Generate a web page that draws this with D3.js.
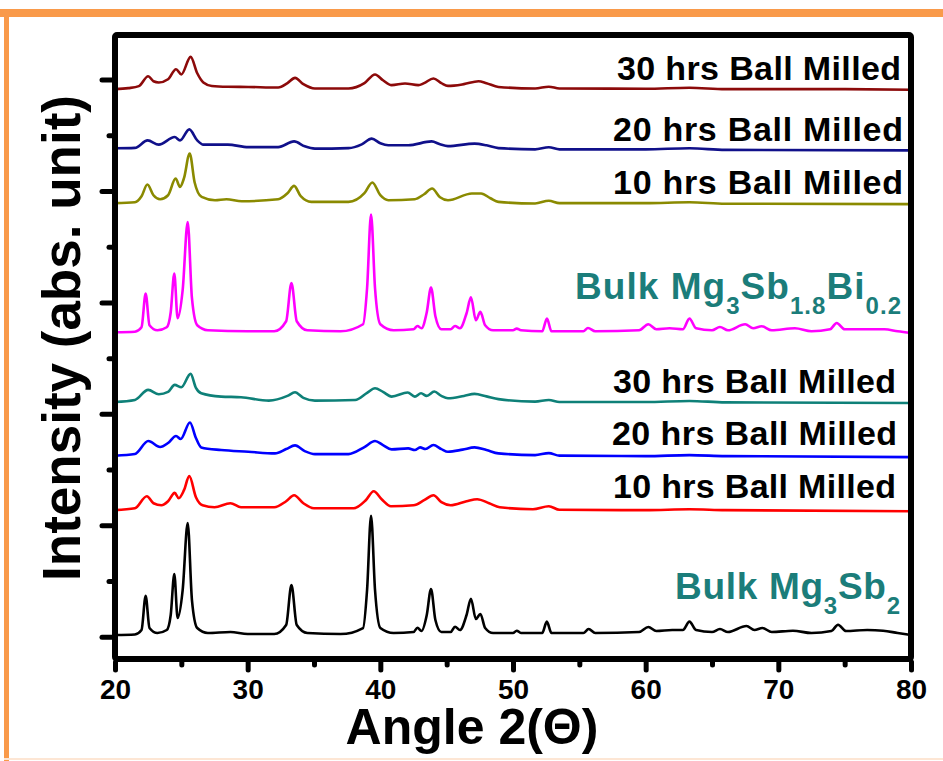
<!DOCTYPE html>
<html><head><meta charset="utf-8">
<script src="https://cdn.jsdelivr.net/npm/d3@7"></script>
<style>
html,body{margin:0;padding:0;background:#fff;}
svg{display:block;}
text{font-family:"Liberation Sans",Arial,Helvetica,sans-serif;font-weight:bold;}
</style></head>
<body><svg id="c" width="943" height="761"></svg>
<script>
// ---------- DATA (angle 2θ, intensity in a.u.) ----------
const bulkMg3Sb2 = [[20,15],[21.5,20],[22.0,60],[22.31,368],[22.6,78],[23.2,33],[23.9,60],[24.2,195],[24.47,563],[24.72,168],[25.1,419],[25.48,1020],[25.8,329],[26.2,78],[27,33],[28.7,42],[30,24],[32,24],[32.9,105],[33.3,464],[33.7,105],[34.5,33],[37,24],[38.7,78],[39.0,419],[39.3,1086],[39.6,419],[40.0,78],[41,33],[42.5,42],[42.8,81],[43.1,51],[43.5,195],[43.82,428],[44.15,150],[44.6,42],[45.3,42],[45.63,90],[46.0,60],[46.5,195],[46.83,341],[47.2,159],[47.54,204],[47.9,78],[48.5,33],[50.0,33],[50.28,54],[50.6,33],[52.2,33],[52.55,135],[52.9,33],[55.3,33],[55.7,69],[56.2,33],[59.5,42],[60.2,87],[60.8,51],[62.0,60],[62.8,60],[63.3,135],[63.8,60],[65.0,42],[65.6,69],[66.2,42],[67.6,96],[68.2,60],[68.8,78],[69.5,42],[71.1,54],[72.5,33],[74.0,51],[74.5,108],[75.1,51],[76.7,60],[77.9,54],[79,33],[80,15]];
const mg3sb2_10h = [[20,11],[21.5,28],[22.4,136],[22.9,73],[23.5,55],[24.0,91],[24.5,166],[24.8,118],[25.2,190],[25.6,316],[26.1,127],[26.6,55],[27.5,37],[28.7,73],[29.5,37],[32.0,37],[32.9,91],[33.5,145],[34.2,73],[35.0,28],[38.0,28],[38.9,100],[39.5,181],[40.1,109],[40.8,46],[42.5,55],[43.3,100],[44.0,145],[44.6,82],[45.3,55],[46.5,91],[47.3,109],[48.2,73],[49.0,37],[51.5,19],[52.7,46],[53.5,15],[60,11],[63.3,19],[66,11],[80,1]];
const mg3sb2_20h = [[20,9],[21.5,24],[22.51,141],[23.4,87],[24.0,123],[24.6,186],[24.95,159],[25.65,308],[26.1,168],[26.5,84],[28.0,60],[30.05,45],[32.06,30],[32.9,69],[33.57,102],[34.3,51],[35.07,24],[37.6,24],[38.8,87],[39.6,141],[40.2,105],[40.85,66],[42.1,75],[42.6,60],[43.0,84],[43.4,69],[44.0,105],[44.6,69],[45.1,45],[46.2,64],[47.1,84],[48.0,60],[48.9,30],[51.66,15],[52.7,33],[53.5,10],[60,6],[63.3,15],[66,6],[80,-3]];
const mg3sb2_30h = [[20,12],[21.5,30],[22.5,120],[23.3,81],[24.0,102],[24.5,165],[25.0,144],[25.7,264],[26.1,138],[26.5,90],[28,60],[29.5,54],[31.6,24],[33.0,66],[33.57,99],[34.2,48],[35.07,24],[38.1,30],[39.0,93],[39.6,135],[40.2,102],[40.85,60],[42.06,96],[42.6,60],[43.07,90],[43.5,66],[44.07,105],[44.6,66],[45.1,45],[46.3,66],[47.1,84],[48.0,62],[48.9,37],[51.66,15],[52.7,30],[53.5,12],[60,12],[63.3,21],[66,8],[80,3]];
const bulkBi = [[20,12],[21.5,17],[22.0,57],[22.31,360],[22.6,75],[23.2,30],[23.9,57],[24.2,192],[24.47,539],[24.72,138],[25.1,390],[25.48,1002],[25.8,318],[26.2,75],[27,30],[30,21],[32,21],[32.9,111],[33.3,455],[33.7,111],[34.5,30],[37,21],[38.7,84],[39.0,407],[39.3,1068],[39.6,407],[40.0,84],[41,30],[42.5,39],[42.8,69],[43.1,48],[43.5,192],[43.82,414],[44.15,156],[44.6,39],[45.3,39],[45.63,69],[46.0,48],[46.5,183],[46.83,326],[47.2,120],[47.54,195],[47.9,75],[48.5,30],[50.0,30],[50.28,45],[50.6,30],[52.2,21],[52.56,135],[52.9,21],[55.3,21],[55.65,51],[56.2,21],[59.5,30],[60.2,84],[60.8,39],[61.8,48],[62.8,39],[63.3,135],[63.8,48],[65.0,30],[65.6,60],[66.2,30],[67.5,84],[68.1,48],[68.75,66],[69.5,30],[71.25,48],[72.5,21],[73.9,39],[74.4,96],[75.0,39],[76.7,39],[78.0,39],[79,21],[80,6]];
const bi_10h = [[20,11],[21.5,19],[22.0,73],[22.44,178],[22.9,82],[23.4,46],[24.0,82],[24.57,232],[24.9,157],[25.2,235],[25.63,457],[26.0,199],[26.53,67],[27.54,37],[28.4,46],[29.55,28],[32.3,46],[33.0,100],[33.5,166],[34.0,73],[34.8,22],[37.6,22],[38.8,100],[39.4,196],[40.0,82],[40.6,37],[42.6,46],[43.3,91],[43.9,142],[44.5,64],[45.1,37],[46.9,98],[47.6,98],[48.3,55],[48.9,22],[51.66,8],[52.7,33],[53.5,11],[60,11],[63.3,19],[66,6],[80,2]];
const bi_20h = [[20,18],[21.5,22],[22.46,89],[23.3,51],[24.5,119],[24.9,89],[25.6,188],[26.2,89],[26.66,51],[28.5,51],[30.05,29],[32.3,29],[33.5,80],[34.3,36],[35.07,15],[37.6,20],[38.6,54],[39.35,105],[40.0,63],[40.6,45],[42.1,45],[43.87,80],[44.5,54],[45.1,38],[47.1,60],[48.0,45],[48.9,20],[51.66,9],[52.7,27],[53.5,9],[60,9],[63.3,18],[66,4],[80,0]];
const bi_30h = [[20,9],[21.0,18],[21.8,36],[22.5,125],[22.9,80],[23.3,69],[24.0,98],[24.6,188],[25.0,141],[25.7,299],[26.2,152],[26.66,69],[27.3,38],[28.5,31],[30.05,29],[32.3,24],[33.0,63],[33.57,110],[34.2,54],[35.07,15],[37.6,15],[38.8,63],[39.6,141],[40.2,89],[40.85,45],[41.86,60],[42.86,45],[43.3,63],[44.0,105],[44.6,63],[45.1,38],[46.3,54],[47.4,80],[48.0,63],[48.9,29],[51.66,15],[52.7,31],[53.5,15],[60,13],[63.3,22],[66,9],[75,9],[80,4]];

const seriesData   = [bulkMg3Sb2, mg3sb2_10h, mg3sb2_20h, mg3sb2_30h, bulkBi, bi_10h, bi_20h, bi_30h];
const seriesOffset = [0, 1125, 1615, 2095, 2720, 3880, 4365, 4905];
const seriesColor  = ["#000000", "#ff0000", "#0000ff", "#0e8078", "#ff00ff", "#8a8a00", "#10108a", "#8c0a0a"];
const xTicksMajor = [20, 30, 40, 50, 60, 70, 80];
const xTicksMinor = [25, 35, 45, 55, 65, 75];
const yTicksMajor = [0, 1000, 2000, 3000, 4000, 5000];
const yTicksMinor = [500, 1500, 2500, 3500, 4500];
// labels: [main, sub, main, sub, ...]
const seriesLabel = [
  ["Bulk Mg", "3", "Sb", "2"],
  ["10 hrs Ball Milled"],
  ["20 hrs Ball Milled"],
  ["30 hrs Ball Milled"],
  ["Bulk Mg", "3", "Sb", "1.8", "Bi", "0.2"],
  ["10 hrs Ball Milled"],
  ["20 hrs Ball Milled"],
  ["30 hrs Ball Milled"]
];
const xTitle = "Angle 2(\u0398)";
const yTitle = "Intensity (abs. unit)";

// ---------- LAYOUT ----------
const svg = d3.select("#c");
const L = 115, R = 911, T = 35, B = 659;
const x = d3.scaleLinear().domain([20, 80]).range([L, R]);
const y = d3.scaleLinear().domain([-200, 5400]).range([B, T]);

// orange border
svg.append("rect").attr("x", 0).attr("y", 9).attr("width", 943).attr("height", 8).attr("fill", "#f99a4a");
svg.append("rect").attr("x", 4).attr("y", 9).attr("width", 5).attr("height", 752).attr("fill", "#f99a4a");
svg.append("rect").attr("x", 4).attr("y", 758).attr("width", 939).attr("height", 2).attr("fill", "#fde6d4");

// curves
const line = d3.line().curve(d3.curveMonotoneX);
seriesData.forEach((s, i) => {
  svg.append("path")
    .attr("d", line(s.map(d => [x(d[0]), y(d[1] + seriesOffset[i])])))
    .attr("fill", "none").attr("stroke", seriesColor[i])
    .attr("stroke-width", 2.6).attr("stroke-linejoin", "round");
});

// labels (baseline offset from curve baseline, right edge, total width)
const labelDy    = [-38, -13, -12, -10, -35, -10, -9, -10];
const labelRight = [900, 896, 897, 896, 901, 903, 903, 901];
const labelWidth = [225, 283, 285, 283, 326, 290, 290, 284];
seriesLabel.forEach((parts, i) => {
  const isBulk = parts.length > 1;
  const t = svg.append("text")
    .attr("x", labelRight[i])
    .attr("y", y(seriesOffset[i]) + labelDy[i])
    .attr("text-anchor", "end")
    .attr("font-size", isBulk ? 37 : 34)
    .attr("textLength", labelWidth[i]).attr("lengthAdjust", "spacing")
    .attr("fill", isBulk ? "#1b7d7a" : "#000");
  parts.forEach((p, k) => {
    const sub = k % 2 === 1;
    t.append("tspan").text(p)
      .attr("font-size", sub ? 24 : null)
      .attr("dy", k === 0 ? 0 : (sub ? 15 : -15));
  });
});

// frame
svg.append("rect").attr("x", L).attr("y", T).attr("width", R - L).attr("height", B - T)
  .attr("fill", "none").attr("stroke", "#000").attr("stroke-width", 6)
  .attr("stroke-linejoin", "round").attr("rx", 2);

// axes
function styleAxis(g) {
  g.select(".domain").remove();
  g.selectAll(".tick line").attr("stroke", "#000").attr("stroke-width", 5).attr("stroke-linecap", "round");
}
const gxMaj = svg.append("g").attr("transform", `translate(0,${B + 3})`)
  .call(d3.axisBottom(x).tickValues(xTicksMajor).tickSize(8).tickFormat(d3.format("d")));
styleAxis(gxMaj);
gxMaj.selectAll(".tick text").attr("y", 37).attr("dy", 0).attr("font-size", 28)
  .attr("fill", "#000").attr("font-family", '"Liberation Sans",Arial,sans-serif').attr("font-weight", "bold");
const gxMin = svg.append("g").attr("transform", `translate(0,${B + 3})`)
  .call(d3.axisBottom(x).tickValues(xTicksMinor).tickSize(3).tickFormat(""));
styleAxis(gxMin);

const gyMaj = svg.append("g").attr("transform", `translate(${L - 3},0)`)
  .call(d3.axisLeft(y).tickValues(yTicksMajor).tickSize(10).tickFormat(""));
styleAxis(gyMaj);
const gyMin = svg.append("g").attr("transform", `translate(${L - 3},0)`)
  .call(d3.axisLeft(y).tickValues(yTicksMinor).tickSize(3).tickFormat(""));
styleAxis(gyMin);

// titles
svg.append("text").attr("x", 472).attr("y", 744).attr("text-anchor", "middle")
  .attr("font-size", 50).attr("fill", "#000").text(xTitle);
svg.append("text").attr("transform", "translate(80,338) rotate(-90)").attr("text-anchor", "middle")
  .attr("font-size", 53).attr("fill", "#000").text(yTitle);
</script></body></html>
